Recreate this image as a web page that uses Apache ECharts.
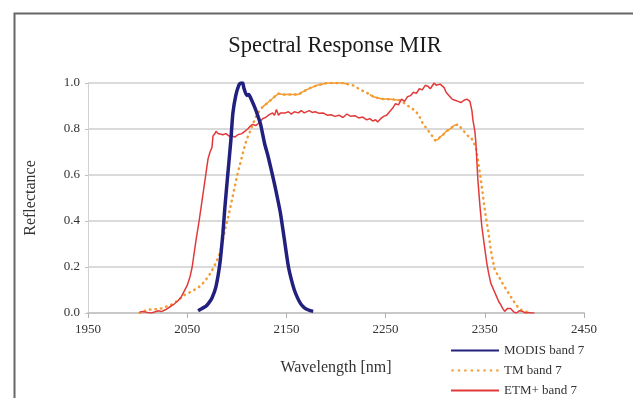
<!DOCTYPE html>
<html>
<head>
<meta charset="utf-8">
<script src="https://cdn.jsdelivr.net/npm/echarts@6/dist/echarts.min.js"></script>
<style>
html,body{margin:0;padding:0;background:#fff;}
#chart{width:633px;height:398px;}
</style>
</head>
<body>
<div id="chart"></div>
<script>
// ---- data ----
var xTicks = [1950, 2050, 2150, 2250, 2350, 2450];
var yTicks = [0.0, 0.2, 0.4, 0.6, 0.8, 1.0];

var modisWl  = [2061, 2065, 2069, 2072, 2075, 2079, 2083, 2086, 2088, 2091, 2094, 2096, 2099, 2102, 2104, 2106, 2107, 2110, 2112, 2114, 2118, 2121, 2124, 2128, 2131, 2134, 2137, 2140, 2144, 2148, 2152, 2155, 2158, 2161, 2164, 2167, 2170, 2174, 2177];
var modisVal = [0.01, 0.02, 0.03, 0.045, 0.065, 0.115, 0.217, 0.347, 0.46, 0.607, 0.75, 0.867, 0.946, 0.99, 1.0, 1.0, 0.98, 0.946, 0.95, 0.935, 0.895, 0.86, 0.82, 0.737, 0.69, 0.636, 0.58, 0.52, 0.434, 0.318, 0.202, 0.145, 0.10, 0.068, 0.043, 0.027, 0.017, 0.01, 0.007];

var tmWl  = [2002, 2010, 2017, 2024, 2030, 2036, 2042, 2048, 2055, 2061, 2065, 2069, 2073, 2077, 2080, 2083, 2086, 2089, 2092, 2095, 2098, 2101, 2104, 2107, 2110, 2114, 2117, 2120, 2123, 2126, 2130, 2134, 2138, 2142, 2146, 2150, 2156, 2162, 2166, 2170, 2175, 2181, 2186, 2191, 2199, 2207, 2212, 2217, 2221, 2225, 2230, 2234, 2238, 2242, 2247, 2252, 2258, 2264, 2268, 2272, 2276, 2280, 2284, 2288, 2292, 2295, 2298, 2300, 2303, 2305, 2308, 2311, 2315, 2319, 2323, 2325, 2327, 2330, 2333, 2336, 2338, 2341, 2343, 2345, 2347, 2349, 2351, 2354, 2356, 2358, 2360, 2363, 2366, 2369, 2372, 2375, 2378, 2381, 2384, 2387, 2390, 2393, 2396];
var tmVal = [0.0, 0.014, 0.016, 0.02, 0.03, 0.04, 0.06, 0.08, 0.095, 0.11, 0.125, 0.145, 0.17, 0.2, 0.23, 0.26, 0.32, 0.376, 0.43, 0.49, 0.55, 0.61, 0.66, 0.71, 0.755, 0.795, 0.83, 0.86, 0.88, 0.896, 0.91, 0.925, 0.94, 0.954, 0.95, 0.95, 0.95, 0.95, 0.96, 0.97, 0.98, 0.99, 0.995, 1.0, 1.0, 1.0, 0.995, 0.99, 0.98, 0.97, 0.96, 0.95, 0.94, 0.935, 0.93, 0.93, 0.928, 0.925, 0.915, 0.903, 0.89, 0.88, 0.855, 0.82, 0.8, 0.78, 0.765, 0.75, 0.755, 0.766, 0.775, 0.79, 0.8, 0.815, 0.82, 0.815, 0.80, 0.785, 0.77, 0.765, 0.76, 0.72, 0.665, 0.61, 0.55, 0.48, 0.42, 0.34, 0.275, 0.23, 0.19, 0.165, 0.145, 0.12, 0.10, 0.08, 0.058, 0.04, 0.022, 0.013, 0.007, 0.004, 0.0];
var tmSolidRanges = [[2124, 2213], [2234, 2266], [2300, 2324]];

var etmWl  = [2002, 2006, 2010, 2014, 2017, 2021, 2024, 2028, 2032, 2036, 2040, 2044, 2047, 2050, 2053, 2055, 2057, 2059, 2062, 2065, 2067, 2069, 2071, 2073, 2075, 2076, 2078, 2079, 2081, 2083, 2086, 2089, 2092, 2095, 2098, 2101, 2103, 2105, 2108, 2111, 2113, 2116, 2119, 2122, 2124, 2126, 2129, 2132, 2134, 2136, 2138, 2140, 2142, 2144, 2146, 2149, 2152, 2155, 2158, 2162, 2165, 2168, 2170, 2173, 2176, 2179, 2183, 2187, 2191, 2195, 2199, 2203, 2207, 2211, 2215, 2219, 2223, 2227, 2231, 2234, 2237, 2240, 2242, 2245, 2248, 2251, 2254, 2257, 2260, 2263, 2266, 2269, 2272, 2275, 2278, 2281, 2284, 2287, 2290, 2293, 2295, 2297, 2299, 2301, 2303, 2305, 2307, 2309, 2311, 2314, 2317, 2320, 2323, 2326, 2329, 2332, 2334, 2335, 2337, 2338, 2340, 2341, 2343, 2345, 2347, 2350, 2352, 2354, 2356, 2359, 2362, 2364, 2366, 2368, 2370, 2373, 2376, 2379, 2382, 2385, 2388, 2391, 2394, 2397, 2400];
var etmVal = [0.004, 0.006, 0.002, 0.0, 0.004, 0.01, 0.006, 0.014, 0.025, 0.036, 0.05, 0.07, 0.095, 0.12, 0.16, 0.2, 0.26, 0.32, 0.40, 0.49, 0.55, 0.61, 0.67, 0.70, 0.72, 0.77, 0.78, 0.79, 0.78, 0.785, 0.775, 0.78, 0.77, 0.77, 0.765, 0.775, 0.78, 0.78, 0.79, 0.80, 0.81, 0.82, 0.815, 0.825, 0.835, 0.845, 0.85, 0.86, 0.855, 0.87, 0.86, 0.885, 0.86, 0.87, 0.865, 0.87, 0.875, 0.865, 0.875, 0.87, 0.88, 0.87, 0.875, 0.88, 0.872, 0.875, 0.868, 0.87, 0.86, 0.862, 0.855, 0.86, 0.85, 0.865, 0.855, 0.858, 0.848, 0.852, 0.84, 0.845, 0.835, 0.84, 0.83, 0.845, 0.855, 0.86, 0.875, 0.89, 0.91, 0.905, 0.93, 0.92, 0.94, 0.945, 0.96, 0.955, 0.975, 0.97, 0.99, 0.985, 0.975, 0.98, 1.0, 0.99, 0.985, 0.995, 1.0, 0.98, 0.96, 0.945, 0.93, 0.925, 0.92, 0.915, 0.925, 0.93, 0.935, 0.92, 0.88, 0.84, 0.79, 0.74, 0.58, 0.47, 0.376, 0.28, 0.217, 0.17, 0.13, 0.1, 0.07, 0.05, 0.036, 0.02, 0.007, 0.02, 0.02, 0.005, 0.0, 0.01, 0.007, 0.0, 0.002, 0.0, 0.0];

var seriesNames = ['MODIS band 7', 'TM band 7', 'ETM+ band 7'];
var titleText = 'Spectral Response MIR';
var xName = 'Wavelength [nm]';
var yName = 'Reflectance';

// ---- build ----
function zip(a, b) { return a.map(function (x, i) { return [x, b[i]]; }); }
function inRanges(x) {
  return tmSolidRanges.some(function (r) { return x >= r[0] && x <= r[1]; });
}
var tmSolid = tmWl.map(function (x, i) { return [x, inRanges(x) ? tmVal[i] : null]; });

var solidIcon = 'path://M0,0h48v2h-48z';
var dotIcon = 'path://';
for (var k = 0; k < 8; k++) { dotIcon += 'M' + (k * 6.4) + ',0h2.4v2h-2.4z'; }

var serif = '"Liberation Serif", "DejaVu Serif", serif';
var chart = echarts.init(document.getElementById('chart'), null, { renderer: 'canvas' });
chart.setOption({
  backgroundColor: '#ffffff',
  animation: false,
  title: {
    text: titleText, left: 330, top: 30, textAlign: 'center',
    textStyle: { fontFamily: serif, fontSize: 22.5, fontWeight: 'normal', color: '#1a1a1a' }
  },
  graphic: [{
    type: 'rect', left: 12, top: 11,
    shape: { x: 0, y: 0, width: 700, height: 500 },
    style: { fill: 'none', stroke: '#666666', lineWidth: 2 }, silent: true
  }],
  legend: {
    data: [
      { name: seriesNames[0], icon: solidIcon },
      { name: seriesNames[1], icon: dotIcon },
      { name: seriesNames[2], icon: solidIcon }
    ],
    orient: 'vertical', left: 451, top: 344, padding: 0,
    itemWidth: 48, itemHeight: 2, itemGap: 7,
    textStyle: { fontFamily: serif, fontSize: 13, color: '#333' }
  },
  grid: { left: 88, right: 49, top: 83, bottom: 85 },
  xAxis: {
    type: 'value', min: 1950, max: 2450, interval: 100,
    name: xName, nameLocation: 'middle', nameGap: 47,
    nameTextStyle: { fontFamily: serif, fontSize: 16, color: '#333' },
    axisLine: { lineStyle: { color: '#c8c8c8', width: 2 } },
    axisTick: { show: true, length: 5, lineStyle: { color: '#b0b0b0' } },
    axisLabel: { fontFamily: serif, fontSize: 13, color: '#333', margin: 10,
      formatter: function (v) { return xTicks.indexOf(v) >= 0 ? String(v) : ''; } },
    splitLine: { show: false }
  },
  yAxis: {
    type: 'value', min: 0, max: 1, interval: 0.2,
    name: yName, nameLocation: 'middle', nameGap: 49,
    nameTextStyle: { fontFamily: serif, fontSize: 16, color: '#333' },
    axisLine: { show: true, lineStyle: { color: '#d0d0d0', width: 1 } },
    axisTick: { show: true, length: 3, lineStyle: { color: '#c0c0c0' } },
    axisLabel: { fontFamily: serif, fontSize: 13, color: '#333', margin: 8,
      formatter: function (v) { return v.toFixed(1); } },
    splitLine: { show: true, lineStyle: { color: '#dadada', width: 2 } }
  },
  series: [
    {
      name: seriesNames[2], type: 'line', data: zip(etmWl, etmVal), symbol: 'none',
      lineStyle: { color: '#e23a3a', width: 1.5 }, itemStyle: { color: '#e23a3a' }, z: 3
    },
    {
      name: seriesNames[1], type: 'line', data: zip(tmWl, tmVal), symbol: 'none',
      lineStyle: { color: '#f39c33', width: 2.5, type: [0.5, 5], cap: 'round' },
      itemStyle: { color: '#f39c33' }, z: 2
    },
    {
      name: 'TM solid', type: 'line', data: tmSolid, symbol: 'none', connectNulls: false,
      lineStyle: { color: '#f39c33', width: 1.5 }, z: 2
    },
    {
      name: seriesNames[0], type: 'line', data: zip(modisWl, modisVal), symbol: 'none', smooth: 0.2,
      lineStyle: { color: '#22207e', width: 3.5 }, itemStyle: { color: '#22207e' }, z: 4
    }
  ]
});
</script>
</body>
</html>
